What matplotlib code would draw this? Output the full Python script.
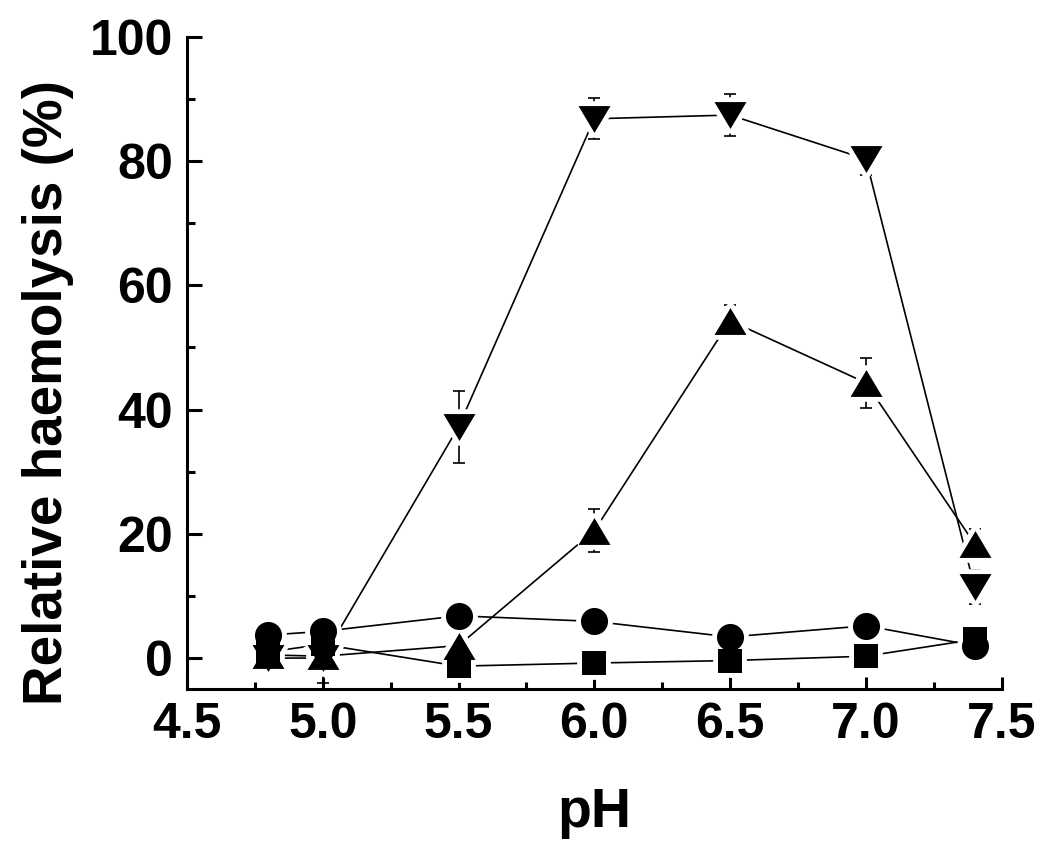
import matplotlib
matplotlib.use("Agg")
import matplotlib.pyplot as plt
from matplotlib.ticker import MultipleLocator, FormatStrFormatter

plt.rcParams['font.family'] = ['Liberation Sans', 'DejaVu Sans']
plt.rcParams['font.weight'] = 'bold'

ph = [4.8, 5.0, 5.5, 6.0, 6.5, 7.0, 7.4]

down_tri = [0.0, 0.0, 37.2, 86.8, 87.4, 80.3, 11.4]
down_err = [1.5, 4.0, 5.8, 3.3, 3.4, 2.6, 2.7]
up_tri = [0.5, 0.3, 2.0, 20.5, 54.3, 44.3, 18.4]
up_err = [1.0, 1.0, 1.0, 3.5, 2.5, 4.0, 2.4]
circle = [3.7, 4.3, 6.8, 5.9, 3.4, 5.2, 2.0]
circle_err = [0.5, 0.5, 0.5, 0.5, 0.5, 0.5, 0.5]
square = [1.0, 2.2, -1.3, -0.8, -0.4, 0.3, 3.0]
square_err = [0.5, 0.5, 0.5, 0.5, 2.3, 0.5, 0.5]

tri_up = [(-1, -0.84), (1, -0.84), (0, 0.84), (-1, -0.84)]
tri_down = [(-1, 0.84), (1, 0.84), (0, -0.84), (-1, 0.84)]

series = [
    (square, square_err, 's', 17.5),
    (circle, circle_err, 'o', 19.5),
    (up_tri, up_err, tri_up, 23),
    (down_tri, down_err, tri_down, 23),
]

fig = plt.figure(figsize=(10.5, 8.55), dpi=100)
ax = fig.add_axes([0.178, 0.194, 0.776, 0.763])

# lines and error bars
for y, e, m, ms in series:
    ax.plot(ph, y, color='black', lw=1.2, zorder=1)
    ax.errorbar(ph, y, yerr=e, fmt='none', ecolor='black', elinewidth=1.2,
                capsize=4, capthick=1.2, zorder=1)
# white halos to create gaps between lines and symbols
for y, e, m, ms in series:
    ax.plot(ph, y, ls='none', marker=m, ms=ms, mfc='white', mec='white',
            mew=7, zorder=2)
# black symbols
for y, e, m, ms in series:
    ax.plot(ph, y, ls='none', marker=m, ms=ms, mfc='black', mec='black',
            mew=0, zorder=3)

ax.set_xlim(4.5, 7.5)
ax.set_ylim(-5, 100)
ax.xaxis.set_major_locator(MultipleLocator(0.5))
ax.xaxis.set_minor_locator(MultipleLocator(0.25))
ax.yaxis.set_major_locator(MultipleLocator(20))
ax.yaxis.set_minor_locator(MultipleLocator(10))
ax.xaxis.set_major_formatter(FormatStrFormatter('%.1f'))

for s in ['top', 'right']:
    ax.spines[s].set_visible(False)
for s in ['left', 'bottom']:
    ax.spines[s].set_linewidth(2.2)

ax.tick_params(axis='both', which='both', direction='in', width=2.2)
ax.tick_params(axis='y', which='major', length=11, pad=10, labelsize=36)
ax.tick_params(axis='y', which='minor', length=5.5)
ax.tick_params(axis='x', which='major', length=9, pad=9, labelsize=36)
ax.tick_params(axis='x', which='minor', length=5)
for lab in ax.get_xticklabels() + ax.get_yticklabels():
    lab.set_fontweight('bold')

ax.set_xlabel('pH', fontsize=40, fontweight='bold', labelpad=28)
ax.set_ylabel('Relative haemolysis (%)', fontsize=39.5, fontweight='bold')
ax.yaxis.set_label_coords(-0.139, 0.455)

fig.savefig('out.png', dpi=100, facecolor='white')
